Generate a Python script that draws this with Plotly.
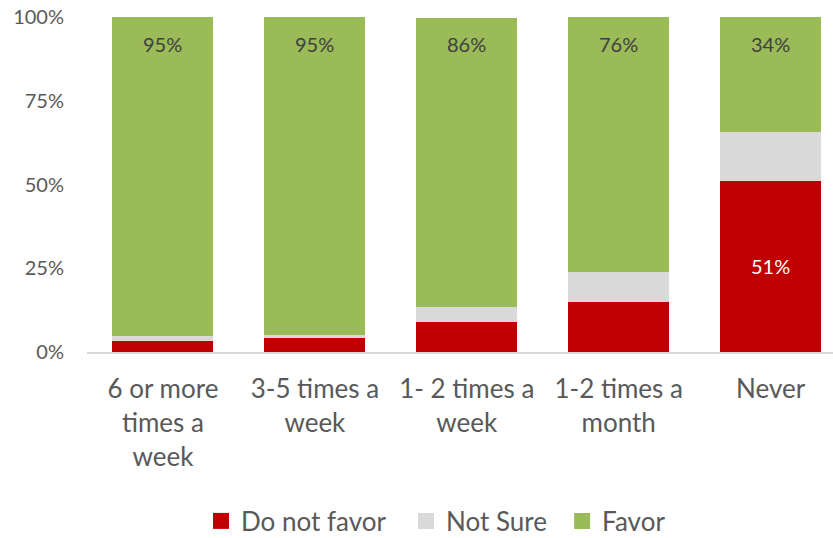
import plotly.graph_objects as go

categories = ["6 or more<br>times a<br>week", "3-5 times a<br>week", "1- 2 times a<br>week",
              "1-2 times a<br>month", "Never"]
do_not_favor = [3.4, 4.3, 9.0, 14.9, 51.1]
not_sure = [1.5, 0.8, 4.4, 9.0, 14.5]
favor = [95.1, 94.9, 86.4, 76.1, 34.4]
y_ticks = [0, 25, 50, 75, 100]
y_tick_labels = ["0%", "25%", "50%", "75%", "100%"]

RED = "#C00000"
GRAY = "#D9D9D9"
GREEN = "#9BBB59"
FONT = "Lato"

fig = go.Figure()
red_text = ["" for _ in do_not_favor]
red_text[-1] = f"{do_not_favor[-1]:.0f}%"
fig.add_bar(x=categories, y=do_not_favor, marker_color=RED, marker_line_width=0,
            text=red_text, textposition="inside", insidetextanchor="middle",
            textfont=dict(color="white", size=20, family=FONT), showlegend=False,
            name="Do not favor")
fig.add_bar(x=categories, y=not_sure, marker_color=GRAY, marker_line_width=0,
            showlegend=False, name="Not Sure")
fig.add_bar(x=categories, y=favor, marker_color=GREEN, marker_line_width=0,
            showlegend=False, name="Favor")

# legend entries with larger square markers, each in its own legend box
legend_keys = ["legend", "legend2", "legend3"]
legend_x = [0.2413, 0.4874, 0.6748]
for (name, col), key in zip([("Do not favor", RED), ("Not Sure", GRAY), ("Favor", GREEN)],
                            legend_keys):
    fig.add_scatter(x=[None], y=[None], mode="markers", name=name, legend=key,
                    marker=dict(symbol="square", size=17, color=col))

for c, v in zip(categories, favor):
    fig.add_annotation(x=c, y=100, yref="y", text=f"{v:.0f}%", showarrow=False,
                       yshift=-27, font=dict(size=20, color="#404040", family=FONT))

legend_style = dict(orientation="h", xref="container", yref="container",
                    xanchor="left", y=0.0316, yanchor="middle",
                    font=dict(size=26, color="#595959"), itemwidth=30,
                    bgcolor="rgba(0,0,0,0)")
fig.update_layout(
    width=833, height=538,
    barmode="stack", bargap=0.335,
    margin=dict(l=86.5, r=0, t=17, b=186, autoexpand=False),
    plot_bgcolor="white", paper_bgcolor="white",
    font=dict(family=FONT, color="#595959"),
    legend=dict(x=legend_x[0], **legend_style),
    legend2=dict(x=legend_x[1], **legend_style),
    legend3=dict(x=legend_x[2], **legend_style),
    xaxis=dict(range=[-0.5, 4.411], showline=True, linecolor="#D9D9D9", linewidth=1.5,
               tickfont=dict(size=26, color="#595959"), showgrid=False, ticks="",
               ticklabelstandoff=13, automargin=False),
    yaxis=dict(range=[0, 100], tickvals=y_ticks, ticktext=y_tick_labels, showgrid=False,
               zeroline=False, tickfont=dict(size=20, color="#595959"),
               ticklabelstandoff=22, automargin=False),
)

fig.write_html("out.html", post_script="document.body.style.margin='0';",
               config={"displayModeBar": False})
